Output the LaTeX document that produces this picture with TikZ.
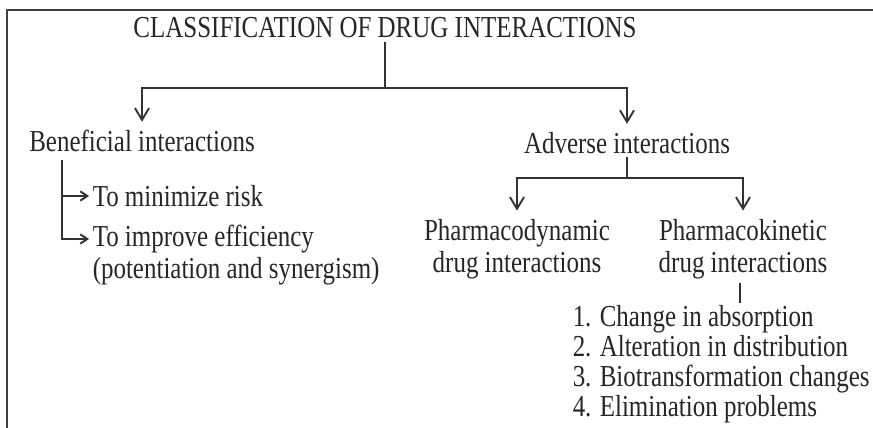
\documentclass[tikz,border=0pt]{standalone}
\usepackage{fontspec}
\setmainfont[FakeStretch=0.82]{Liberation Serif}
\usepackage{tikz}
\usetikzlibrary{positioning, arrows.meta}

\tikzset{
  txt/.style={text=black!85, font=\fontsize{26}{27.5}\selectfont, inner sep=3pt},
  link/.style={black!80, line width=1.8pt},
  down/.style={link, -{Straight Barb[length=10pt, width=12pt, line width=1.6pt]}, shorten >=4pt},
  side/.style={link, -{Straight Barb[length=6pt, width=8pt, line width=1.6pt]}},
}

\begin{document}
\begin{tikzpicture}[x=0.03cm, y=-0.03cm]
  \useasboundingbox (0,0) rectangle (873,428);
  % frame
  \draw[black!75, line width=1.8pt] (7,428) -- (7,10) -- (873,10);

  % headings
  \node[txt] (title) at (385,28) {CLASSIFICATION OF DRUG INTERACTIONS};
  \node[txt] (benef) at (142,141) {Beneficial interactions};
  \node[txt] (adv) at (627,143) {Adverse interactions};

  % first split
  \coordinate (split) at (385,88);
  \draw[link] (title) -- (split);
  \draw[down] (split) -| (benef);
  \draw[down] (split) -| (adv);

  % beneficial branch
  \node[txt, anchor=west] (minrisk) at (89,196) {To minimize risk};
  \node[txt, anchor=west] (effic) at (89,239) {To improve efficiency};
  \node[txt, anchor=west] (poten) at (89,271) {(potentiation and synergism)};
  \coordinate (bstem) at (62,160);
  \draw[side] (bstem) |- (minrisk);
  \draw[side] (bstem) |- (effic);

  % adverse branch
  \node[txt, align=center] (pdyn) at (517,249) {Pharmacodynamic\\drug interactions};
  \node[txt, align=center] (pkin) at (743,249) {Pharmacokinetic\\drug interactions};
  \coordinate (asplit) at (627,178);
  \draw[link] (adv) -- (asplit);
  \draw[down] (asplit) -| (pdyn);
  \draw[down] (asplit) -| (pkin);

  % pharmacokinetic list
  \coordinate (kstub) at (740,303);
  \draw[link] (pkin.south -| kstub) -- (kstub);
  \node[txt, align=left, anchor=north west, font=\fontsize{26}{25.5}\selectfont] (kinlist) at (569,302)
    {1. Change in absorption\\2. Alteration in distribution\\3. Biotransformation changes\\4. Elimination problems};
\end{tikzpicture}
\end{document}
